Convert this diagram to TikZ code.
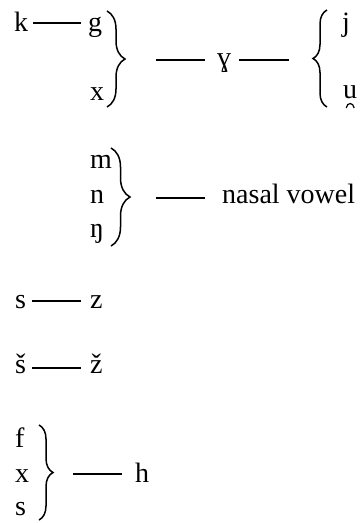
\documentclass[tikz,border=0pt]{standalone}
\usepackage{fontspec}
\setmainfont{Liberation Serif}
\usetikzlibrary{decorations.pathreplacing,calc}
\begin{document}
\begin{tikzpicture}[x=1pt,y=-1pt,
  lbl/.style={anchor=base west,inner sep=0pt,font=\fontsize{28}{34}\selectfont},
  conn/.style={line width=1.6pt},
  brc/.style={line width=1.5pt,decorate,decoration={brace,amplitude=#1}}]
\useasboundingbox (0,0) rectangle (361,523);
% group 1
\node[lbl] (k) at (14,31) {k};
\node[lbl] (g) at (88,31) {g};
\node[lbl] (x1) at (90,100) {x};
\coordinate (b1t) at (107,11);
\coordinate (b1b) at (107,107);
\coordinate (b1tip) at (125,59);
\draw[brc=18pt] (b1t) -- (b1b);
\node[lbl] (gam) at (217,66) {ɣ};
\coordinate (b2t) at (327,10);
\coordinate (b2b) at (327,107);
\coordinate (b2tip) at (313,59);
\draw[brc=14pt] (b2b) -- (b2t);
\node[lbl] (j) at (342,31) {j};
\node[lbl] (u) at (343,98) {u};
\draw[line width=1.2pt] ($(u.base)+(-4,10)$) .. controls ($(u.base)+(-3,4)$) and ($(u.base)+(3,4)$) .. ($(u.base)+(4,10)$);
\draw[conn] ($(k.base east)+(5,-8)$) -- ($(g.base west)+(-7,-8)$);
\draw[conn] ($(b1tip)+(31,1)$) -- ($(gam.base west)+(-12,-6)$);
\draw[conn] ($(gam.base east)+(8,-6)$) -- ($(b2tip)+(-24,1)$);
% nasals
\node[lbl] (m) at (90,168) {m};
\node[lbl] (n) at (90,203) {n};
\node[lbl] (ng) at (90,237) {ŋ};
\coordinate (b3t) at (111,148);
\coordinate (b3b) at (111,246);
\coordinate (b3tip) at (130,197);
\draw[brc=19pt] (b3t) -- (b3b);
\node[lbl] (nv) at (222,203) {nasal vowel};
\draw[conn] ($(b3tip)+(26,1)$) -- ($(nv.base west)+(-17,-5)$);
% s-z
\node[lbl] (s1) at (15,308) {s};
\node[lbl] (z) at (90,308) {z};
\draw[conn] ($(s1.base east)+(6,-7)$) -- ($(z.base west)+(-9,-7)$);
\node[lbl] (sh) at (15,373) {š};
\node[lbl] (zh) at (90,373) {ž};
\draw[conn] ($(sh.base east)+(6,-5)$) -- ($(zh.base west)+(-9,-5)$);
% f x s
\node[lbl] (f) at (15,447) {f};
\node[lbl] (x2) at (15,482) {x};
\node[lbl] (s2) at (15,515) {s};
\coordinate (b4t) at (39,425);
\coordinate (b4b) at (39,520);
\coordinate (b4tip) at (53,472);
\draw[brc=14pt] (b4t) -- (b4b);
\node[lbl] (h) at (135,482) {h};
\draw[conn] ($(b4tip)+(20,2)$) -- ($(h.base west)+(-13,-8)$);
\end{tikzpicture}
\end{document}
